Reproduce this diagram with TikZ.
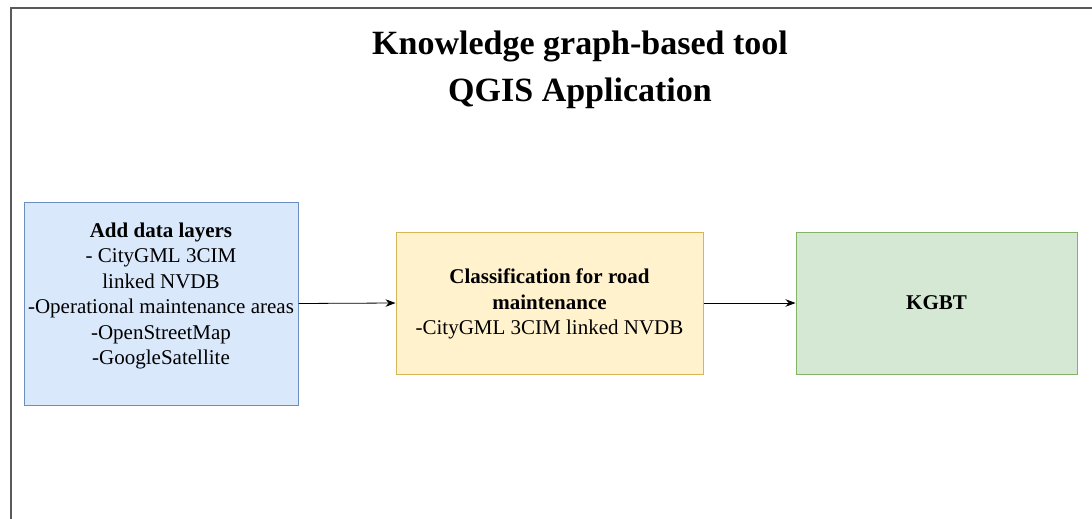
\documentclass[tikz,border=0pt]{standalone}
\usepackage{fontspec}
\setmainfont{Liberation Serif}
\usetikzlibrary{arrows.meta}
\definecolor{framegray}{RGB}{90,90,90}
\definecolor{bluefill}{HTML}{DAE8FC}
\definecolor{blueline}{HTML}{6C8EBF}
\definecolor{yelfill}{HTML}{FFF2CC}
\definecolor{yelline}{HTML}{D6B656}
\definecolor{grnfill}{HTML}{D5E8D4}
\definecolor{grnline}{HTML}{82B366}
\tikzset{
  box/.style={draw, line width=1pt, inner sep=0pt},
  boxtext/.style={align=center, inner sep=0pt, font=\fontsize{21}{25.5}\selectfont},
  conn/.style={draw=black, line width=0.8pt, -{Stealth[length=10pt,width=7.5pt]}},
}
\begin{document}
\begin{tikzpicture}[x=1pt,y=-1pt]
\useasboundingbox (0,0) rectangle (1092,519);
\fill[white] (0,0) rectangle (1092,519);
% frame
\coordinate (fbl) at (10.5,530);
\coordinate (ftl) at (10.5,8.5);
\coordinate (ftr) at (1100,8.5);
\draw[framegray, line width=2pt] (fbl) -- (ftl) -- (ftr);
% title
\node[font=\bfseries\fontsize{34}{47}\selectfont, align=center, anchor=center]
  (title) at (580,70) {Knowledge graph-based tool\\QGIS Application};
% boxes
\node[box, fill=bluefill, draw=blueline, minimum width=274pt, minimum height=203pt]
  (layers) at (161,303.5) {};
\node[boxtext] (layerstext) at (161,296)
  {\textbf{Add data layers}\\- CityGML 3CIM\\linked NVDB\\-Operational maintenance areas\\-OpenStreetMap\\-GoogleSatellite};
\node[box, fill=yelfill, draw=yelline, minimum width=307pt, minimum height=142pt]
  (classif) at (549.5,303) {};
\node[boxtext] (classiftext) at (549.5,304)
  {\textbf{Classification for road}\\\textbf{maintenance}\\-CityGML 3CIM linked NVDB};
\node[box, fill=grnfill, draw=grnline, minimum width=281pt, minimum height=142pt]
  (kgbt) at (936.5,303) {};
\node[boxtext] (kgbttext) at (936.5,303) {\textbf{KGBT}};
% connectors
\draw[conn] (layers.east) -- (classif.west);
\draw[conn] (classif.east) -- (kgbt.west);
\end{tikzpicture}
\end{document}
